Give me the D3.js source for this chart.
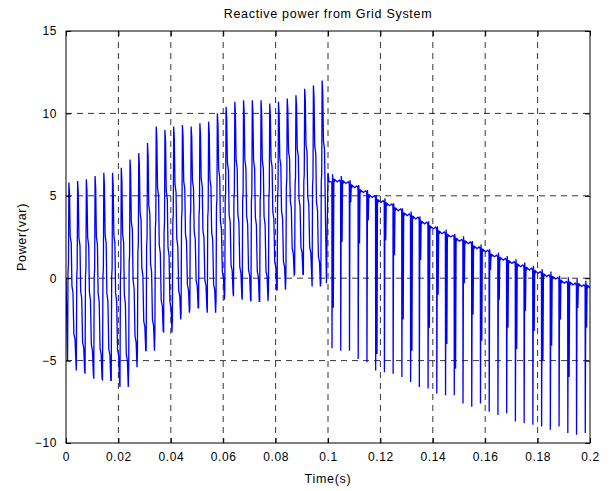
<!DOCTYPE html>
<html>
<head>
<meta charset="utf-8">
<script src="https://cdn.jsdelivr.net/npm/d3@7/dist/d3.min.js"></script>
<style>
  body { margin: 0; background: #fff; }
  text { font-family: "Liberation Sans", Arial, sans-serif; fill: #000; }
</style>
</head>
<body>
<div id="chart"></div>
<script>
// labels
var title = "Reactive power from Grid System";
var xLabel = "Time(s)";
var yLabel = "Power(var)";
var xTicks = [0, 0.02, 0.04, 0.06, 0.08, 0.1, 0.12, 0.14, 0.16, 0.18, 0.2];
var yTicks = [-10, -5, 0, 5, 10, 15];

// one pulse every 1/300 s (6-pulse ripple)
var period = 1 / 300;

// 0 .. 0.1 s : peak and trough of each ripple cycle
var rampPeaks = [5.8, 5.9, 6.0, 6.2, 6.4, 6.4, 6.7, 7.2, 7.6, 8.2,
                 9.2, 9.0, 9.2, 9.3, 9.2, 9.4, 9.5, 10.0, 10.4, 10.7,
                 10.8, 10.8, 10.8, 10.6, 10.7, 10.9, 11.1, 11.5, 11.7, 12.0];
var rampTroughs = [-5.0, -5.6, -5.8, -6.1, -6.2, -6.2, -6.6, -5.4, -4.4, -4.4,
                   -3.2, -3.3, -2.5, -2.1, -1.8, -1.8, -2.1, -1.3, -0.9, -1.1,
                   -1.3, -1.4, -1.4, -0.7, -0.7, 0.2, 0.25, 0.2, -0.5, -0.3];
// shape of one cycle: [phase, fraction between trough and peak]
var rampShape = [[0, 0], [0.05, 0.5], [0.1, 0.54], [0.15, 1], [0.22, 0.94],
                 [0.3, 0.7], [0.42, 0.66], [0.5, 0.42], [0.62, 0.38],
                 [0.72, 0.15], [0.85, 0.12], [0.95, 0]];

// 0.1 .. 0.2 s : level between notches, notch depth, and the smaller second notch
var tailBase = [5.85, 5.75, 5.5, 5.2, 4.9, 4.6, 4.4, 4.1, 3.8, 3.6,
                3.3, 3.0, 2.7, 2.5, 2.25, 2.1, 1.8, 1.6, 1.3, 1.1,
                0.9, 0.7, 0.5, 0.3, 0.1, -0.05, -0.3, -0.4, -0.5, -0.6];
var tailDips = [-4.25, -4.4, -4.4, -4.9, -5.1, -5.6, -5.7, -5.8, -6.0, -6.3,
                -6.6, -6.7, -7.0, -7.1, -7.1, -7.6, -7.8, -7.6, -8.1, -8.3,
                -8.2, -8.7, -8.8, -8.9, -9.0, -9.2, -9.0, -9.4, -9.5, -9.4];
var tailEcho = [-1.8, 2.2, 4.6, 2.1, 3.5, -4.6, 2.3, 1.4, -2.5, -4.4,
                1.1, -3.0, -1.0, -4.0, -5.5, -0.3, -2.2, -3.8, 0.5, -1.3,
                -3.0, -4.3, -2.0, -3.2, -5.0, -4.1, -2.5, -6.0, -1.8, -3.0];
// small ripple riding on each plateau between notches
var tailRipple = [[0.35, 0.12], [0.6, 0.0], [0.85, 0.1], [0.97, 0.0]];

var W = 611, H = 491;
var margin = {left: 66, right: 21, top: 31, bottom: 48};

var svg = d3.select("#chart").append("svg")
  .attr("width", W).attr("height", H);

var x = d3.scaleLinear().domain([0, 0.2]).range([margin.left, W - margin.right]);
var y = d3.scaleLinear().domain([-10, 15]).range([H - margin.bottom, margin.top]);

// build the trace
var pts = [[0, 0]];
var rampStart = 0.0006;
rampPeaks.forEach(function(pk, k) {
  var lo = rampTroughs[k];
  rampShape.forEach(function(s) {
    var t = rampStart + (k + s[0]) * period;
    if (t < 0.0992) pts.push([t, lo + s[1] * (pk - lo)]);
  });
});
pts.push([0.0994, rampTroughs[29]]);
pts.push([0.1000, 6.4]);
pts.push([0.1004, tailBase[0]]);

var dipStart = 0.10153;
tailBase.forEach(function(b, k) {
  var td = dipStart + k * period;
  pts.push([td - 0.00006, b]);
  pts.push([td, tailDips[k]]);
  pts.push([td + 0.0002, b + 0.45]);
  pts.push([td + 0.00035, b]);
  pts.push([td + 0.0005, tailEcho[k]]);
  pts.push([td + 0.0007, b + 0.2]);
  pts.push([td + 0.0009, b]);
  tailRipple.forEach(function(r) {
    pts.push([td + r[0] * period, b + r[1]]);
  });
});
pts.push([0.2, tailBase[29] - 0.05]);

// grid
var grid = svg.append("g").attr("stroke", "#000").attr("stroke-width", 0.8)
  .attr("stroke-dasharray", "6,5");
grid.selectAll("line.gx").data(xTicks.slice(1, -1)).enter().append("line")
  .attr("x1", d => x(d)).attr("x2", d => x(d))
  .attr("y1", y(15)).attr("y2", y(-10));
grid.selectAll("line.gy").data(yTicks.slice(1, -1)).enter().append("line")
  .attr("y1", d => y(d)).attr("y2", d => y(d))
  .attr("x1", x(0)).attr("x2", x(0.2));

svg.append("clipPath").attr("id", "clip").append("rect")
  .attr("x", x(0)).attr("y", y(15))
  .attr("width", x(0.2) - x(0)).attr("height", y(-10) - y(15));

var line = d3.line().x(d => x(d[0])).y(d => y(d[1]));
svg.append("path").datum(pts)
  .attr("clip-path", "url(#clip)")
  .attr("fill", "none").attr("stroke", "#0000ff").attr("stroke-width", 1.3)
  .attr("d", line);

// axes (ticks inward, on all four sides)
var tickFmt = d => d === 0 ? "0" : d3.format("")(+d.toFixed(2));
var xb = svg.append("g").attr("transform", "translate(0," + y(-10) + ")")
  .call(d3.axisBottom(x).tickValues(xTicks).tickSizeInner(-5).tickSizeOuter(0).tickPadding(9).tickFormat(tickFmt));
var xt = svg.append("g").attr("transform", "translate(0," + y(15) + ")")
  .call(d3.axisTop(x).tickValues(xTicks).tickSizeInner(-5).tickSizeOuter(0).tickFormat(""));
var yl = svg.append("g").attr("transform", "translate(" + x(0) + ",0)")
  .call(d3.axisLeft(y).tickValues(yTicks).tickSizeInner(-5).tickSizeOuter(0).tickPadding(9));
var yr = svg.append("g").attr("transform", "translate(" + x(0.2) + ",0)")
  .call(d3.axisRight(y).tickValues(yTicks).tickSizeInner(-5).tickSizeOuter(0).tickFormat(""));

[xb, xt, yl, yr].forEach(function(g) {
  g.select(".domain").remove();
  g.selectAll("line").attr("stroke", "#000");
  g.selectAll("text").style("font-size", "12px").style("letter-spacing", "0.6px")
    .attr("fill", "#000");
});

svg.append("rect")
  .attr("x", x(0)).attr("y", y(15))
  .attr("width", x(0.2) - x(0)).attr("height", y(-10) - y(15))
  .attr("fill", "none").attr("stroke", "#000").attr("stroke-width", 1);

svg.append("text").attr("x", (x(0) + x(0.2)) / 2).attr("y", 18)
  .attr("text-anchor", "middle").style("font-size", "12.5px").style("letter-spacing", "0.7px")
  .text(title);
svg.append("text").attr("x", (x(0) + x(0.2)) / 2).attr("y", 483)
  .attr("text-anchor", "middle").style("font-size", "12.5px").style("letter-spacing", "0.7px")
  .text(xLabel);
svg.append("text")
  .attr("transform", "translate(26," + (y(15) + y(-10)) / 2 + ") rotate(-90)")
  .attr("text-anchor", "middle").style("font-size", "12.5px").style("letter-spacing", "0.7px")
  .text(yLabel);
</script>
</body>
</html>
